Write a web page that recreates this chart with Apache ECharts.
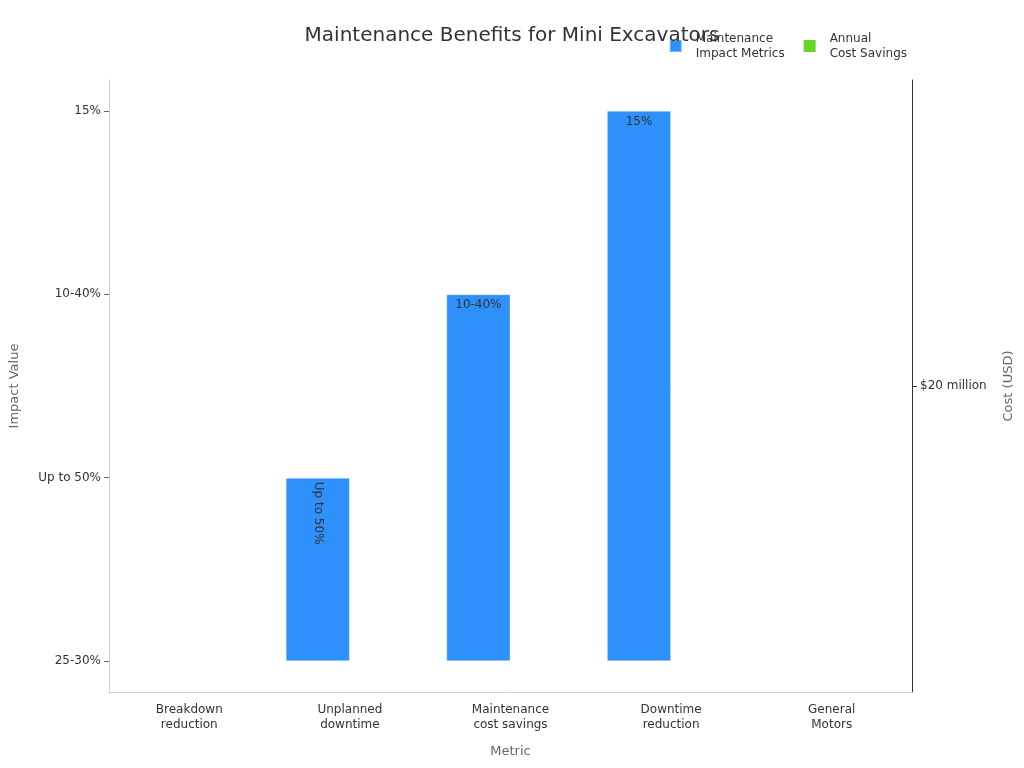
<!DOCTYPE html>
<html>
<head>
<meta charset="utf-8">
<script src="https://cdn.jsdelivr.net/npm/echarts@6/dist/echarts.min.js"></script>
<style>html,body{margin:0;padding:0;background:#fff}#c{width:1024px;height:768px}</style>
</head>
<body>
<div id="c"></div>
<script>
var categories = ['Breakdown\nreduction', 'Unplanned\ndowntime', 'Maintenance\ncost savings', 'Downtime\nreduction', 'General\nMotors'];
var impactTickLabels = ['25-30%', 'Up to 50%', '10-40%', '15%'];
var impactValues = [0, 1, 2, 3, null];
var impactLabels = ['', 'Up to 50%', '10-40%', '15%', ''];
var costTickLabels = ['$20 million'];
var annualSavings = [null, null, null, null, '$20 million'];

var FONT = 'DejaVu Sans';
var chart = echarts.init(document.getElementById('c'), null, {renderer: 'canvas'});

var impactData = impactValues.map(function (v, i) {
  var item = {value: v};
  if (i === 1) {
    item.label = {rotate: -90, align: 'left', verticalAlign: 'middle', position: 'insideTop', distance: 4};
  }
  return item;
});

chart.setOption({
  animation: false,
  textStyle: {fontFamily: FONT},
  title: {
    text: 'Maintenance Benefits for Mini Excavators',
    left: 'center', top: 21,
    textStyle: {fontFamily: FONT, fontSize: 20, fontWeight: 'normal', color: '#333'}
  },
  legend: {
    right: 112, top: 26,
    itemWidth: 12, itemHeight: 12, itemGap: 19,
    icon: 'rect',
    textStyle: {fontFamily: FONT, fontSize: 12, color: '#333', lineHeight: 15, padding: [0, 0, 0, 9]},
    data: ['Maintenance\nImpact Metrics', 'Annual\nCost Savings']
  },
  grid: {left: 108, right: 112, top: 80, bottom: 76},
  xAxis: {
    type: 'category',
    data: categories,
    name: 'Metric', nameLocation: 'middle', nameGap: 53,
    nameTextStyle: {fontFamily: FONT, fontSize: 13, color: '#666'},
    axisLine: {onZero: false, lineStyle: {color: '#ccc'}},
    axisTick: {alignWithLabel: true, lineStyle: {color: '#666'}},
    axisLabel: {fontFamily: FONT, fontSize: 12, color: '#333', lineHeight: 15, margin: 10}
  },
  yAxis: [
    {
      type: 'value',
      min: -0.1676, max: 3.1676,
      name: 'Impact Value', nameLocation: 'middle', nameGap: 88,
      nameTextStyle: {fontFamily: FONT, fontSize: 13, color: '#666'},
      axisLine: {show: true, lineStyle: {color: '#ccc'}},
      axisTick: {show: true, customValues: [0, 1, 2, 3], lineStyle: {color: '#666'}},
      splitLine: {show: false},
      axisLabel: {
        customValues: [0, 1, 2, 3],
        fontFamily: FONT, fontSize: 12, color: '#333',
        formatter: function (v) { return impactTickLabels[Math.round(v)]; }
      }
    },
    {
      type: 'category',
      data: costTickLabels,
      position: 'right',
      name: 'Cost (USD)', nameLocation: 'middle', nameGap: 90,
      nameTextStyle: {fontFamily: FONT, fontSize: 13, color: '#666'},
      axisLine: {show: true, lineStyle: {color: '#333'}},
      axisTick: {show: true, alignWithLabel: true, lineStyle: {color: '#333'}},
      splitLine: {show: false},
      axisLabel: {fontFamily: FONT, fontSize: 12, color: '#333'}
    }
  ],
  series: [
    {
      name: 'Maintenance\nImpact Metrics',
      type: 'bar',
      yAxisIndex: 0,
      barGap: '0%',
      barCategoryGap: '20%',
      data: impactData,
      itemStyle: {color: '#2E90FA', borderColor: 'rgba(255,255,255,0.35)', borderWidth: 1},
      label: {
        show: true, position: 'insideTop', distance: 5,
        fontFamily: FONT, fontSize: 12, color: '#333',
        formatter: function (p) { return impactLabels[p.dataIndex]; }
      }
    },
    {
      name: 'Annual\nCost Savings',
      type: 'bar',
      yAxisIndex: 1,
      data: annualSavings,
      itemStyle: {color: '#66D626', borderWidth: 0}
    }
  ]
});
</script>
</body>
</html>
